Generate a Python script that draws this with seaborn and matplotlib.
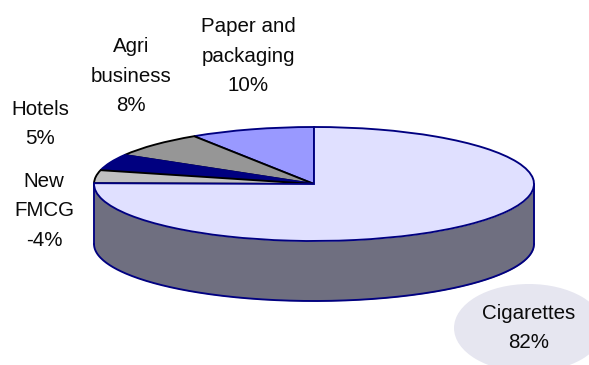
import numpy as np
import matplotlib
matplotlib.use("Agg")
import matplotlib.pyplot as plt
from matplotlib.patches import Ellipse
import seaborn as sns

# Business segments, listed anticlockwise from twelve o'clock
segments = ["Paper and\npackaging", "Agri\nbusiness", "Hotels", "New\nFMCG", "Cigarettes"]
shares = [10, 8, 5, -4, 82]

fill_colors = sns.color_palette(["#9999FF", "#969696", "#000080", "#C0C0C0", "#E0E0FF"])
edge_colors = ["#000080", "#000000", "#000080", "#000000", "#000080"]
wall_color = "#6F6F80"
callout_color = "#E6E6F0"

W, H = 589, 365
CX, CY, RX, RY, DEPTH = 314, 184, 220, 57, 60
LINE = 1.35

sns.set_theme(style="white")
plt.rcParams["font.family"] = ["Liberation Sans", "DejaVu Sans"]

fig = plt.figure(figsize=(W / 100, H / 100), dpi=100, facecolor="white")
ax = fig.add_axes([0, 0, 1, 1])

# Top face of the tilted disc: a unit pie stretched by the axes limits
wedges, _ = ax.pie(np.abs(shares), colors=fill_colors, startangle=90, counterclock=True,
                   radius=1, center=(0, 0))
for wedge, edge in zip(wedges, edge_colors):
    wedge.set_edgecolor(edge)
    wedge.set_linewidth(LINE)
    wedge.set_zorder(3)
ax.set_aspect("auto")
ax.set_xlim(-CX / RX, (W - CX) / RX)
ax.set_ylim((CY - H) / RY, CY / RY)
ax.axis("off")

# Side wall below the front half of the disc
theta = np.linspace(np.pi, 2 * np.pi, 300)
rim_x, rim_y = np.cos(theta), np.sin(theta)
drop = DEPTH / RY
ax.fill_between(rim_x, rim_y - drop, rim_y, color=wall_color, linewidth=0, zorder=1)
ax.plot(rim_x, rim_y - drop, color="#000080", lw=LINE, zorder=2)
ax.plot([-1, -1], [0, -drop], color="#000080", lw=LINE, zorder=2)
ax.plot([1, 1], [0, -drop], color="#000080", lw=LINE, zorder=2)


def fx(px):
    return px / W


def fy(py):
    return 1 - py / H


# Shaded callout behind the largest segment's label
fig.add_artist(Ellipse((fx(529), fy(328)), 150 / W, 88 / H, transform=fig.transFigure,
                       facecolor=callout_color, edgecolor="none", zorder=0.5))

label_centres = [(248, 56), (131, 76), (40, 124), (44, 211), (529, 328)]
for name, value, (px, py) in zip(segments, shares, label_centres):
    fig.text(fx(px), fy(py), f"{name}\n{value}%", ha="center", va="center", ma="center",
             fontsize=14.8, color="#0A0A0A", linespacing=1.72, zorder=5)

fig.savefig("out.png", dpi=100)
